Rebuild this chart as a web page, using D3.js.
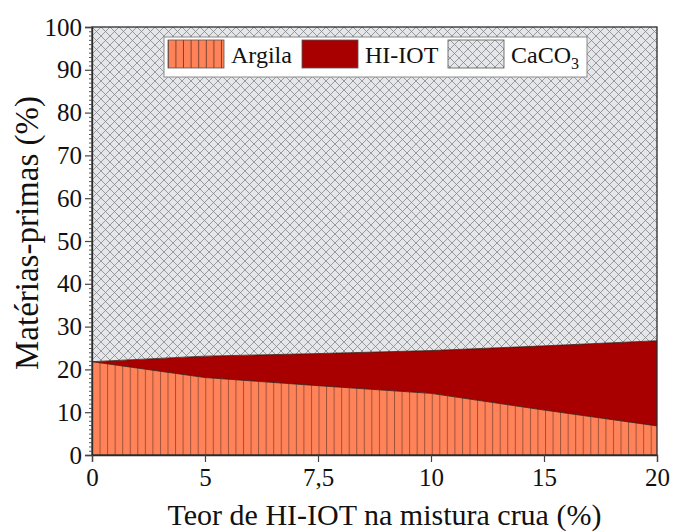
<!DOCTYPE html>
<html>
<head>
<meta charset="utf-8">
<script src="https://cdn.jsdelivr.net/npm/d3@7"></script>
<style>
  body { margin: 0; background: #fff; }
  svg { display: block; font-family: "Liberation Serif", "Times New Roman", serif; }
</style>
</head>
<body>
<div id="graph"></div>
<script>
// data
const teor = ['0', '5', '7,5', '10', '15', '20']
const argila = [21.8, 18.1, 16.2, 14.4, 10.5, 6.8]
const hiiot = [0, 5, 7.5, 10, 15, 19.9]
const caco3 = argila.map((a, i) => 100 - a - hiiot[i])
const yTicks = [0, 10, 20, 30, 40, 50, 60, 70, 80, 90, 100]
const series = ['Argila', 'HI-IOT', 'CaCO3']

const width = 674
const height = 532
const margin = {top: 27, right: 17, bottom: 77, left: 92}

const rows = teor.map((t, i) => ({teor: t, Argila: argila[i], 'HI-IOT': hiiot[i], CaCO3: caco3[i]}))
const stacked = d3.stack().keys(series)(rows)

const svg = d3.select('#graph')
    .append('svg')
    .attr('width', width)
    .attr('height', height)

const defs = svg.append('defs')

// vertical stripes for Argila
const pA = defs.append('pattern')
    .attr('id', 'argila')
    .attr('patternUnits', 'userSpaceOnUse')
    .attr('width', 7.55).attr('height', 10)
    .attr('x', margin.left)
pA.append('rect').attr('width', 7.55).attr('height', 10).attr('fill', '#ff8258')
pA.append('line').attr('x1', 0.5).attr('x2', 0.5).attr('y1', 0).attr('y2', 10)
    .attr('stroke', '#7d4331').attr('stroke-width', 1).attr('stroke-opacity', 0.75)

// cross hatch for CaCO3
const pC = defs.append('pattern')
    .attr('id', 'caco3')
    .attr('patternUnits', 'userSpaceOnUse')
    .attr('width', 9).attr('height', 9)
    .attr('x', margin.left).attr('y', margin.top)
pC.append('rect').attr('width', 9).attr('height', 9).attr('fill', '#e4e6e9')
pC.append('path').attr('d', 'M0,0L9,9M9,0L0,9M-1,8L1,10M8,-1L10,1M-1,1L1,-1M8,10L10,8')
    .attr('stroke', '#858585').attr('stroke-width', 0.8).attr('fill', 'none')

const fills = {Argila: 'url(#argila)', 'HI-IOT': '#a80000', CaCO3: 'url(#caco3)'}
const swatchFills = {Argila: 'url(#argilaL)', 'HI-IOT': '#a80000', CaCO3: 'url(#caco3)'}

const xScale = d3.scalePoint().domain(teor).range([margin.left, width - margin.right])
const yScale = d3.scaleLinear().domain([0, 100]).range([height - margin.bottom, margin.top])

const area = d3.area()
    .x(d => xScale(d.data.teor))
    .y0(d => yScale(d[0]))
    .y1(d => yScale(d[1]))

svg.append('g')
    .selectAll('path')
    .data(stacked)
    .enter()
    .append('path')
    .attr('d', area)
    .attr('fill', d => fills[d.key])

// boundary lines between layers
const edge = d3.line().x(d => xScale(d.data.teor)).y(d => yScale(d[1]))
svg.append('g')
    .selectAll('path')
    .data(stacked.slice(0, 2))
    .enter()
    .append('path')
    .attr('d', edge)
    .attr('fill', 'none')
    .attr('stroke', '#3a1a10')
    .attr('stroke-width', 0.8)

// frame
svg.append('rect')
    .attr('x', margin.left).attr('y', margin.top)
    .attr('width', width - margin.right - margin.left)
    .attr('height', height - margin.bottom - margin.top)
    .attr('fill', 'none')
    .attr('stroke', '#2b2b2b')
    .attr('stroke-width', 1.3)

// y axis with minor ticks
const yMinor = d3.range(0, 101, 1).filter(v => v % 10 !== 0)
svg.append('g')
    .attr('transform', `translate(${margin.left},0)`)
    .call(d3.axisLeft(yScale).tickValues(yMinor).tickSize(3).tickFormat(''))
    .call(g => g.select('.domain').remove())
    .call(g => g.selectAll('line').attr('stroke', '#555'))

const yAxis = svg.append('g')
    .attr('transform', `translate(${margin.left},0)`)
    .call(d3.axisLeft(yScale).tickValues(yTicks).tickSize(7).tickPadding(3))
yAxis.select('.domain').attr('stroke', '#2b2b2b').attr('stroke-width', 1.3)
yAxis.selectAll('line').attr('stroke', '#444').attr('stroke-width', 1.2)
yAxis.selectAll('text').attr('font-size', 25).attr('fill', '#111')
    .attr('font-family', '"Liberation Serif", serif')

// x axis
const xAxis = svg.append('g')
    .attr('transform', `translate(0,${height - margin.bottom})`)
    .call(d3.axisBottom(xScale).tickSize(7).tickPadding(6))
xAxis.select('.domain').attr('stroke', '#2b2b2b').attr('stroke-width', 1.3)
xAxis.selectAll('line').attr('stroke', '#444').attr('stroke-width', 1.2)
xAxis.selectAll('text').attr('font-size', 25).attr('fill', '#111')
    .attr('font-family', '"Liberation Serif", serif')

// axis titles
svg.append('text')
    .attr('x', (margin.left + width - margin.right) / 2 + 10)
    .attr('y', 525)
    .attr('text-anchor', 'middle')
    .attr('font-size', 30)
    .attr('fill', '#111')
    .text('Teor de HI-IOT na mistura crua (%)')

svg.append('text')
    .attr('transform', `translate(38,${(margin.top + height - margin.bottom) / 2 - 8}) rotate(-90)`)
    .attr('text-anchor', 'middle')
    .attr('font-size', 33)
    .attr('fill', '#111')
    .text('Matérias-primas (%)')

// legend
const pL = defs.append('pattern')
    .attr('id', 'argilaL')
    .attr('patternUnits', 'userSpaceOnUse')
    .attr('width', 7.6).attr('height', 10)
    .attr('x', 168)
pL.append('rect').attr('width', 7.6).attr('height', 10).attr('fill', '#ff8258')
pL.append('line').attr('x1', 7.1).attr('x2', 7.1).attr('y1', 0).attr('y2', 10)
    .attr('stroke', '#7d4331').attr('stroke-width', 1)

const legend = svg.append('g').attr('id', 'legend')
legend.append('rect')
    .attr('x', 164).attr('y', 37).attr('width', 423).attr('height', 40)
    .attr('fill', '#fff').attr('stroke', '#8a8a8a').attr('stroke-width', 1)

const legX = [168, 302, 448]
const legItems = legend.selectAll('g.item')
    .data(series)
    .enter()
    .append('g')
    .attr('class', 'item')
    .attr('transform', (d, i) => `translate(${legX[i]},40)`)
legItems.append('rect')
    .attr('width', 56).attr('height', 28)
    .attr('fill', d => swatchFills[d])
    .attr('stroke', '#555').attr('stroke-width', 0.8)
const legText = legItems.append('text')
    .attr('x', 63).attr('y', 23)
    .attr('font-size', 24)
    .attr('fill', '#111')
legText.filter(d => d !== 'CaCO3').text(d => d)
legText.filter(d => d === 'CaCO3').each(function () {
    const t = d3.select(this)
    t.append('tspan').text('CaCO')
    t.append('tspan').attr('font-size', 16).attr('dy', 6).text('3')
})
</script>
</body>
</html>
